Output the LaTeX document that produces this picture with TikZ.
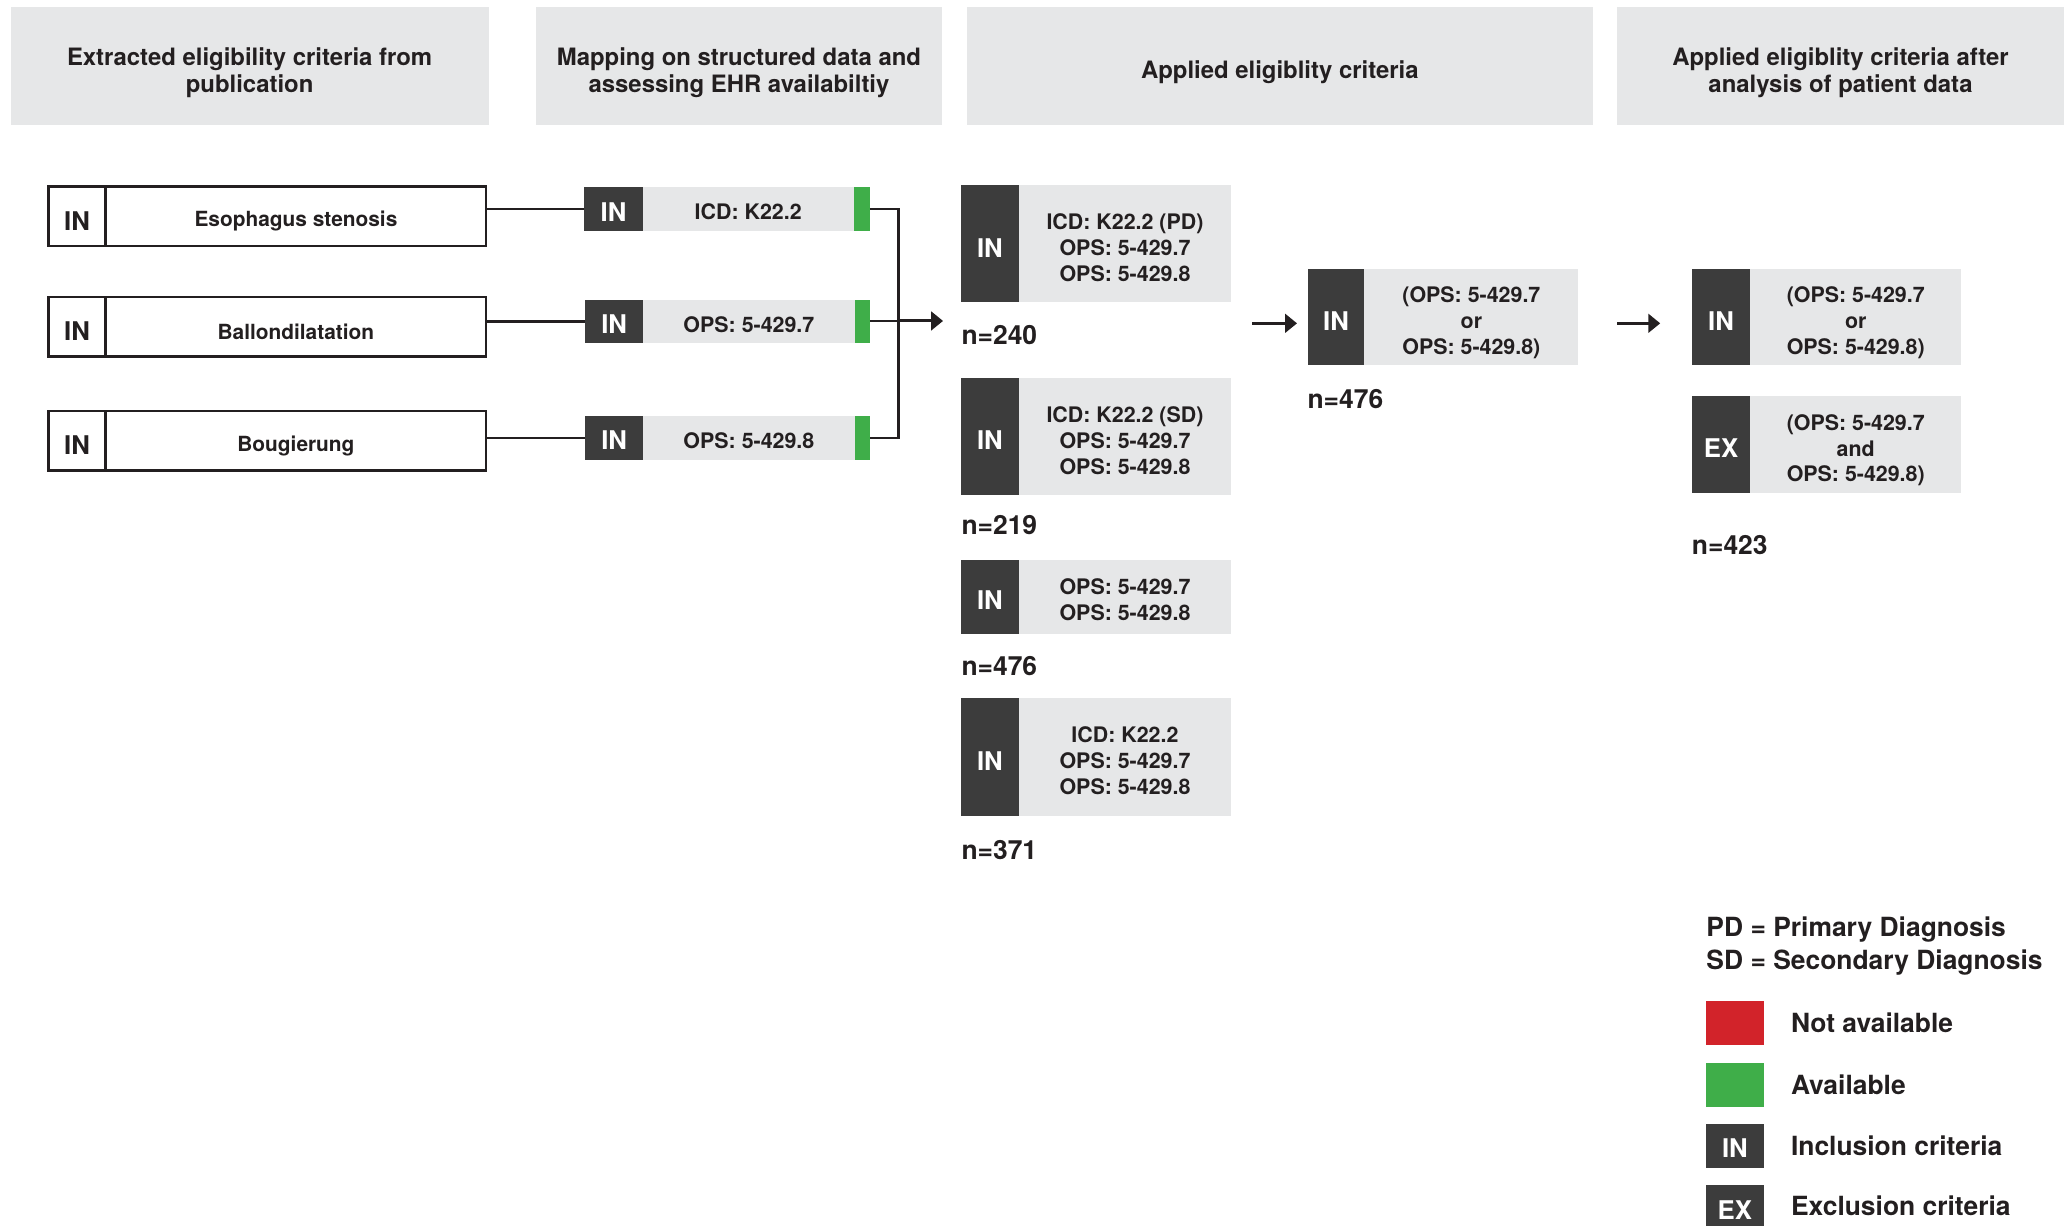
\documentclass[tikz,border=0pt]{standalone}
\usepackage{fontspec}
\setmainfont{TeX Gyre Heros}
\usetikzlibrary{arrows.meta}
\definecolor{lgray}{HTML}{E6E7E8}
\definecolor{dgray}{HTML}{3C3C3C}
\definecolor{agreen}{HTML}{3FAE49}
\definecolor{ared}{HTML}{D2232A}
\definecolor{txt}{HTML}{231F20}
\begin{document}
\begin{tikzpicture}[x=1pt,y=-1pt,
  every node/.style={inner sep=0pt, outer sep=0pt, text=txt},
  hdr/.style={fill=lgray},
  hdrt/.style={align=center, yshift=-5pt, font=\fontsize{18.1}{21}\selectfont\bfseries},
  lbox/.style={draw=txt, line width=1.9pt, fill=white},
  lint/.style={yshift=-3.5pt, font=\fontsize{19.5}{21}\selectfont\bfseries},
  ltt/.style={yshift=-3.5pt, font=\fontsize{15.8}{19}\selectfont\bfseries},
  dcell/.style={fill=dgray},
  dt/.style={text=white, yshift=-#1, font=\fontsize{19.5}{21}\selectfont\bfseries},
  gcell/.style={fill=lgray},
  gt/.style={align=center, yshift=-#1, font=\fontsize{16.2}{19.5}\selectfont\bfseries},
  gbar/.style={fill=agreen},
  nlab/.style={anchor=west, font=\fontsize{20}{22}\selectfont\bfseries},
  legt/.style={anchor=base west, font=\fontsize{20}{24}\selectfont\bfseries},
  conn/.style={draw=txt, line width=2pt},
  arr/.style={draw=txt, line width=2.3pt, -{Triangle[length=9pt,width=14pt]}},
]
\useasboundingbox (0,0) rectangle (1568,928);

% headers
\node[hdr, minimum width=362, minimum height=90, label={[hdrt]center:{Extracted eligibility criteria from\\publication}}] (h1) at (189,50) {};
\node[hdr, minimum width=307, minimum height=90, label={[hdrt]center:{Mapping on structured data and\\assessing EHR availabiltiy}}] (h2) at (559.5,50) {};
\node[hdr, minimum width=474, minimum height=90, label={[hdrt]center:{Applied eligiblity criteria}}] (h3) at (969,50) {};
\node[hdr, minimum width=339, minimum height=90, label={[hdrt]center:{Applied eligiblity criteria after\\analysis of patient data}}] (h4) at (1393.5,50) {};

% left column
\node[lbox, minimum width=43.5, minimum height=45, label={[lint]center:IN}] (l1in) at (58.3,163.8) {};
\node[lbox, minimum width=288, minimum height=45, anchor=west, label={[ltt]center:Esophagus stenosis}] (l1) at (l1in.east) {};
\node[lbox, minimum width=43.5, minimum height=45, label={[lint]center:IN}] (l2in) at (58.3,247.5) {};
\node[lbox, minimum width=288, minimum height=45, anchor=west, label={[ltt]center:Ballondilatation}] (l2) at (l2in.east) {};
\node[lbox, minimum width=43.5, minimum height=45, label={[lint]center:IN}] (l3in) at (58.3,333.8) {};
\node[lbox, minimum width=288, minimum height=45, anchor=west, label={[ltt]center:Bougierung}] (l3) at (l3in.east) {};

% mapping column
\node[dcell, minimum width=44, minimum height=33, label={[dt=2pt]center:IN}] (m1in) at (464.5,158.3) {};
\node[gcell, minimum width=160, minimum height=33, anchor=west, label={[gt=2pt]center:{ICD: K22.2}}] (m1) at (m1in.east) {};
\node[gbar, minimum width=12, minimum height=33, anchor=west] (m1g) at (m1.east) {};
\node[dcell, minimum width=44, minimum height=33, label={[dt=2pt]center:IN}] (m2in) at (465,243.5) {};
\node[gcell, minimum width=160, minimum height=33, anchor=west, label={[gt=2pt]center:{OPS: 5-429.7}}] (m2) at (m2in.east) {};
\node[gbar, minimum width=12, minimum height=33, anchor=west] (m2g) at (m2.east) {};
\node[dcell, minimum width=44, minimum height=33, label={[dt=2pt]center:IN}] (m3in) at (465,331.5) {};
\node[gcell, minimum width=160, minimum height=33, anchor=west, label={[gt=2pt]center:{OPS: 5-429.8}}] (m3) at (m3in.east) {};
\node[gbar, minimum width=12, minimum height=33, anchor=west] (m3g) at (m3.east) {};

\draw[conn] (l1.east |- m1in.west) -- (m1in.west);
\draw[conn] (l2.east |- m2in.west) -- (m2in.west);
\draw[conn] (l3.east |- m3in.west) -- (m3in.west);

\coordinate (jt) at (680.5,158.3);
\coordinate (jb) at (680.5,331.5);
\coordinate (jm) at (680.5,243);
\coordinate (c3tip) at (714,243);
\draw[conn] (m1g.east) -- (jt) -- (jb) -- (m3g.east);
\draw[conn] (m2g.east |- jm) -- (jm);
\draw[arr] (jm) -- (c3tip);

% applied criteria column
\node[dcell, minimum width=43.5, minimum height=89, label={[dt=3pt]center:IN}] (ain) at (749.5,184.5) {};
\node[gcell, minimum width=161, minimum height=89, anchor=west, label={[gt=3pt]center:{ICD: K22.2 (PD)\\OPS: 5-429.7\\OPS: 5-429.8}}] (a) at (ain.east) {};
\node[nlab] (na) at (728,254) {n=240};

\node[dcell, minimum width=43.5, minimum height=89, label={[dt=3pt]center:IN}] (bin) at (749.5,330.5) {};
\node[gcell, minimum width=161, minimum height=89, anchor=west, label={[gt=3pt]center:{ICD: K22.2 (SD)\\OPS: 5-429.7\\OPS: 5-429.8}}] (b) at (bin.east) {};
\node[nlab] (nb) at (728,397.5) {n=219};

\node[dcell, minimum width=43.5, minimum height=56, label={[dt=3pt]center:IN}] (cin) at (749.5,451.7) {};
\node[gcell, minimum width=161, minimum height=56, anchor=west, label={[gt=2.5pt]center:{OPS: 5-429.7\\OPS: 5-429.8}}] (c) at (cin.east) {};
\node[nlab] (nc) at (728,504) {n=476};

\node[dcell, minimum width=43.5, minimum height=89, label={[dt=3pt]center:IN}] (din) at (749.5,573) {};
\node[gcell, minimum width=161, minimum height=89, anchor=west, label={[gt=3pt]center:{ICD: K22.2\\OPS: 5-429.7\\OPS: 5-429.8}}] (d) at (din.east) {};
\node[nlab] (nd) at (728,643.5) {n=371};

% combined
\node[dcell, minimum width=43, minimum height=72, label={[dt=3pt]center:IN}] (ein) at (1011.5,240) {};
\node[gcell, minimum width=162, minimum height=72, anchor=west, label={[gt=4.5pt]center:{(OPS: 5-429.7\\or\\OPS: 5-429.8)}}] (e) at (ein.east) {};
\node[nlab] (ne) at (990,302) {n=476};
\draw[arr] ([xshift=16pt,yshift=-4.8pt]a.east |- ein.west) -- ([xshift=-8pt,yshift=-4.8pt]ein.west);

% after analysis
\node[dcell, minimum width=44, minimum height=72, label={[dt=3pt]center:IN}] (fin) at (1303,240) {};
\node[gcell, minimum width=160, minimum height=72, anchor=west, label={[gt=4.5pt]center:{(OPS: 5-429.7\\or\\OPS: 5-429.8)}}] (f) at (fin.east) {};
\node[dcell, minimum width=44, minimum height=73, label={[dt=3pt]center:EX}] (gin) at (1303,336.5) {};
\node[gcell, minimum width=160, minimum height=73, anchor=west, label={[gt=4.5pt]center:{(OPS: 5-429.7\\and\\OPS: 5-429.8)}}] (g) at (gin.east) {};
\node[nlab] (nf) at (1281,413) {n=423};
\draw[arr] ([xshift=29.5pt,yshift=-4.8pt]e.east |- fin.west) -- ([xshift=-24pt,yshift=-4.8pt]fin.west);

% legend
\node[legt] (lpd) at (1292,709) {PD = Primary Diagnosis};
\node[legt] (lsd) at (1292,734) {SD = Secondary Diagnosis};
\node[fill=ared, minimum width=43.5, minimum height=33] (lr) at (1313.5,774.5) {};
\node[fill=agreen, minimum width=43.5, minimum height=33] (lg) at (1313.5,821.5) {};
\node[dcell, minimum width=43.5, minimum height=33, label={[dt=2pt]center:IN}] (li) at (1313.5,867.5) {};
\node[dcell, minimum width=43.5, minimum height=33, label={[dt=3pt]center:EX}] (lx) at (1313.5,913.5) {};
\node[legt] (tr) at (1356,782) {Not available};
\node[legt] (tg) at (1356,828.3) {Available};
\node[legt] (ti) at (1356,875) {Inclusion criteria};
\node[legt] (tx) at (1356,920.4) {Exclusion criteria};
\end{tikzpicture}
\end{document}
